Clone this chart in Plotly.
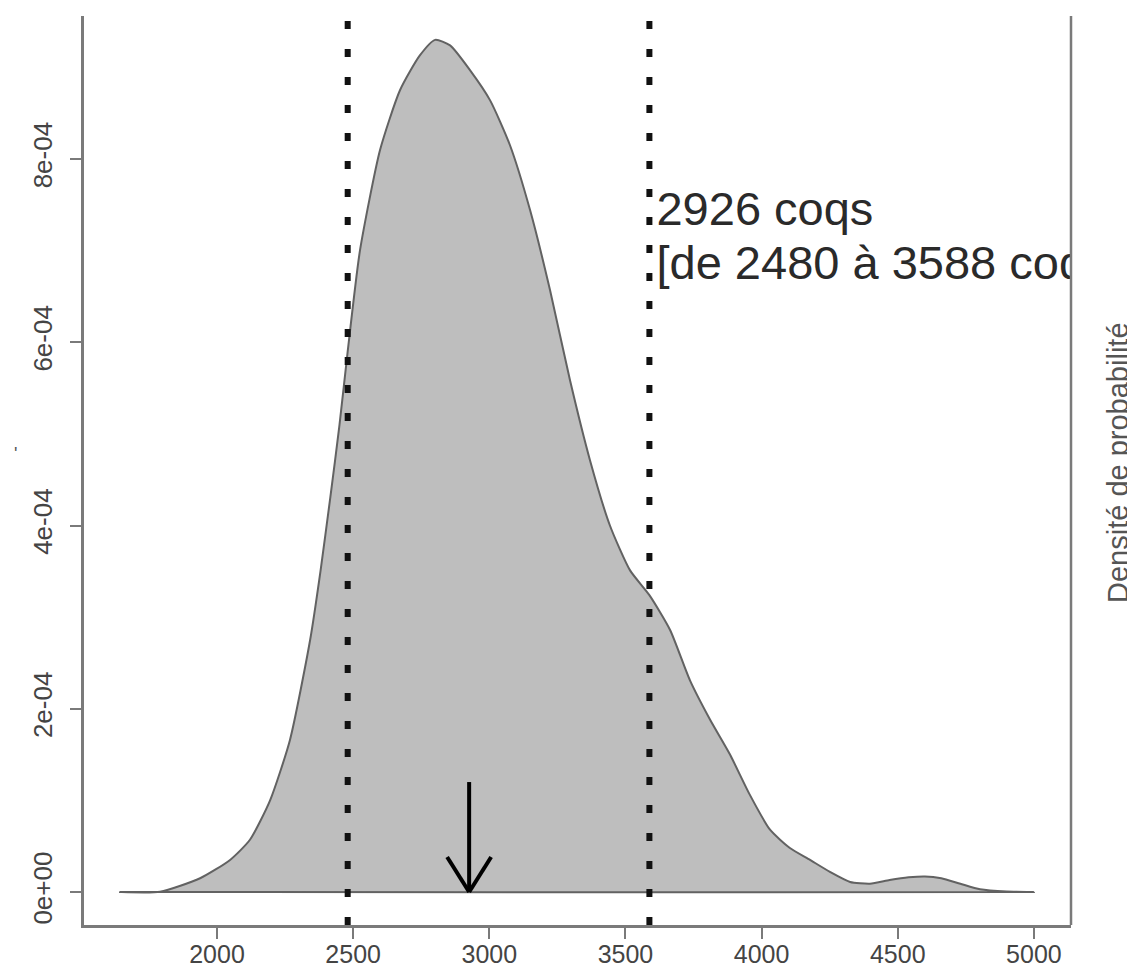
import plotly.graph_objects as go

# ---- data ----
dens_x = [1644, 1791, 1938, 2048, 2121, 2195, 2268, 2342, 2380, 2415, 2450, 2480,
          2525, 2599, 2672, 2745, 2801, 2856, 2929, 3003, 3076, 3150, 3223, 3296,
          3370, 3443, 3517, 3588, 3664, 3737, 3811, 3884, 3957, 4031, 4104, 4178,
          4251, 4325, 4398, 4470, 4540, 4600, 4660, 4730, 4802, 4900, 5000]
dens_y = [0.0, 0.003e-4, 0.15e-4, 0.35e-4, 0.57e-4, 1.0e-4, 1.66e-4, 2.75e-4, 3.5e-4,
          4.28e-4, 5.1e-4, 5.9e-4,
          7.0e-4, 8.1e-4, 8.75e-4, 9.13e-4, 9.3e-4, 9.24e-4, 8.97e-4, 8.64e-4, 8.15e-4,
          7.44e-4, 6.57e-4, 5.59e-4, 4.71e-4, 4.0e-4, 3.51e-4, 3.24e-4, 2.86e-4, 2.31e-4,
          1.88e-4, 1.5e-4, 1.06e-4, 0.68e-4, 0.48e-4, 0.35e-4, 0.22e-4, 0.11e-4, 0.09e-4,
          0.13e-4, 0.16e-4, 0.17e-4, 0.15e-4, 0.09e-4, 0.03e-4, 0.005e-4, 0.0]

estimate = 2926
ci_low = 2480
ci_high = 3588
arrow_top = 1.2e-4

x_ticks = [2000, 2500, 3000, 3500, 4000, 4500, 5000]
y_ticks = [0, 2e-4, 4e-4, 6e-4, 8e-4]
y_ticktext = ["0e+00", "2e-04", "4e-04", "6e-04", "8e-04"]

label_lines = ["2926 coqs", "[de 2480 à 3588 coqs]"]
label_x = 3614
label_y = [7.41e-4, 6.82e-4]
right_title = "Densité de probabilité"

FONT = "Liberation Sans"
AXIS_COL = "#7a7a7a"

# page body has an 8px margin: work in screen pixels, then subtract it
BODY = 8
FIG_W, FIG_H = 1135 - BODY, 971 - BODY
L, R, T, B = 84, 1071, 16, 925          # plot box in screen pixels
W, H = R - L, B - T

fig = go.Figure()

# density polygon (closed on the baseline)
poly_x = dens_x + [dens_x[0]]
poly_y = dens_y + [dens_y[0]]
fig.add_trace(go.Scatter(
    x=poly_x, y=poly_y, mode="lines", fill="toself",
    fillcolor="#bebebe", line=dict(color="#626262", width=2, shape="spline", smoothing=0.6),
    hoverinfo="skip", showlegend=False))

# label text, clipped by the plot area
fig.add_trace(go.Scatter(
    x=[label_x, label_x], y=label_y, mode="text", text=label_lines,
    textposition="middle right", cliponaxis=True,
    textfont=dict(family=FONT, size=47, color="#2a2a2a"),
    hoverinfo="skip", showlegend=False))

# dotted vertical lines at the interval bounds
for v in (ci_low, ci_high):
    fig.add_shape(type="line", xref="x", yref="paper", x0=v, x1=v, y0=0, y1=1,
                  line=dict(color="#111111", width=6, dash="8px,20px"))

# arrow pointing to the estimate
fig.add_shape(type="line", xref="x", yref="y", x0=estimate, x1=estimate,
              y0=arrow_top, y1=0, line=dict(color="#000000", width=4))
for side in (-1, 1):
    fig.add_shape(type="line", xref="x", yref="y",
                  xsizemode="pixel", ysizemode="pixel",
                  xanchor=estimate, yanchor=0,
                  x0=side * 22, y0=35, x1=0, y1=0,
                  line=dict(color="#000000", width=4))

# right border of the box
fig.add_shape(type="line", xref="paper", yref="paper", x0=1, x1=1, y0=0, y1=1,
              line=dict(color=AXIS_COL, width=2.5))

# right-hand axis title (at the edge) and a stray mark on the left
fig.add_annotation(text=right_title, xref="paper", yref="paper",
                   x=(1118 - L) / W, y=(B - 463) / H, textangle=-90,
                   showarrow=False, xanchor="center", yanchor="middle",
                   font=dict(family=FONT, size=29, color="#555555"))
fig.add_annotation(text="'", xref="paper", yref="paper",
                   x=(15 - L) / W, y=(B - 454) / H,
                   showarrow=False, xanchor="center", yanchor="middle",
                   font=dict(family=FONT, size=18, color="#555555"))

fig.update_layout(
    width=FIG_W, height=FIG_H,
    margin=dict(l=L - BODY, r=FIG_W - (R - BODY), t=T - BODY,
                b=FIG_H - (B - BODY), pad=0, autoexpand=False),
    plot_bgcolor="white", paper_bgcolor="white",
    showlegend=False,
    font=dict(family=FONT, color="#444444"),
)
fig.update_xaxes(
    range=[1511.6, 5136.3], tickvals=x_ticks, ticks="outside", ticklen=11,
    tickwidth=1.5, tickcolor=AXIS_COL, showline=True, linecolor=AXIS_COL,
    linewidth=2.5, showgrid=False, zeroline=False, automargin=False,
    tickfont=dict(family=FONT, size=25, color="#444444"), ticklabelstandoff=-6)
fig.update_yaxes(
    range=[(892 - 925) * 1.0914e-6, (892 - 16) * 1.0914e-6],
    tickvals=y_ticks, ticktext=y_ticktext, ticks="outside", ticklen=11,
    tickwidth=1.5, tickcolor=AXIS_COL, showline=True, linecolor=AXIS_COL,
    linewidth=2.5, showgrid=False, zeroline=False, tickangle=-90, automargin=False,
    tickfont=dict(family=FONT, size=26, color="#444444"), ticklabelstandoff=8)

fig.write_html("out.html")
